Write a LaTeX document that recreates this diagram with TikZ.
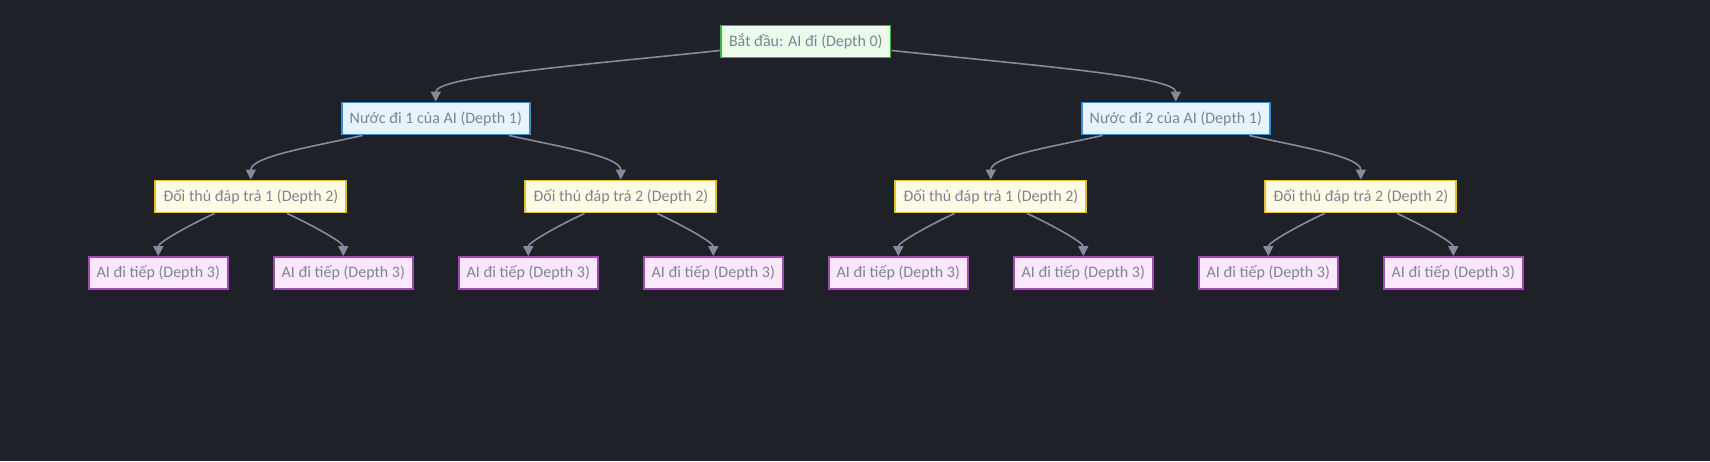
\documentclass[tikz,border=0pt]{standalone}
\usepackage{fontspec}
\setmainfont{Carlito}
\usetikzlibrary{graphs}
\usetikzlibrary{arrows.meta}
\tikzset{tips=proper}
\definecolor{bg}{HTML}{1F2128}
\definecolor{ink}{HTML}{7C8494}
\definecolor{wire}{HTML}{838B9F}
\definecolor{startfill}{HTML}{EAFBEA}
\definecolor{startline}{HTML}{36B545}
\definecolor{movefill}{HTML}{E7F3FE}
\definecolor{moveline}{HTML}{3A8FD3}
\definecolor{replyfill}{HTML}{FFFBE5}
\definecolor{replyline}{HTML}{E5C02F}
\definecolor{leaffill}{HTML}{FBE8FD}
\definecolor{leafline}{HTML}{9C4DAE}
\tikzset{%
    box/.style={rectangle, draw, line width=1.8pt, text=ink, minimum height=32pt,
        inner xsep=8pt, inner ysep=0pt, font=\fontsize{16}{19}\selectfont},
    start/.style={box, draw=startline, fill=startfill},
    move/.style={box, draw=moveline, fill=movefill},
    reply/.style={box, draw=replyline, fill=replyfill},
    leaf/.style={box, draw=leafline, fill=leaffill},
    link/.style={draw=wire, line width=1.6pt, -{Triangle[length=10pt,width=10pt]}},
    bendto/.style={out=#1, in=90, in looseness=0.5},
    longbend/.style={out=#1, in=90, out looseness=1.3, in looseness=0.22}
}

\begin{document}
\begin{tikzpicture}[x=1pt,y=1pt]
    \fill[bg] (0,0) rectangle (1710,-461);
    \useasboundingbox (0,0) rectangle (1710,-461);
    % levels, bottom up
    \foreach \n [count=\i from 0] in {a,...,h}
        \node[leaf] (l3\n) at (158.3+185*\i,-273) {AI đi tiếp (Depth 3)};
    \foreach \n/\r [count=\i from 0] in {a/1,b/2,c/1,d/2}
        \node[reply] (l2\n) at (250.8+370*\i,-196.5) {Đối thủ đáp trả \r{} (Depth 2)};
    \foreach \n [count=\i] in {a,b}
        \node[move] (l1\n) at (435.8+740*\i-740,-118.5) {Nước đi \i{} của AI (Depth 1)};
    \node[start] (root) at (805.8,-41.5) {Bắt đầu: AI đi (Depth 0)};
    \graph[use existing nodes, edges={link}] {
        root ->[longbend=186] l1a;
        root ->[longbend=354] l1b;
        l1a ->[bendto=193] l2a;
        l1a ->[bendto=347] l2b;
        l1b ->[bendto=193] l2c;
        l1b ->[bendto=347] l2d;
        l2a ->[bendto=205] l3a;
        l2a ->[bendto=335] l3b;
        l2b ->[bendto=205] l3c;
        l2b ->[bendto=335] l3d;
        l2c ->[bendto=205] l3e;
        l2c ->[bendto=335] l3f;
        l2d ->[bendto=205] l3g;
        l2d ->[bendto=335] l3h;
    };
\end{tikzpicture}
\end{document}
